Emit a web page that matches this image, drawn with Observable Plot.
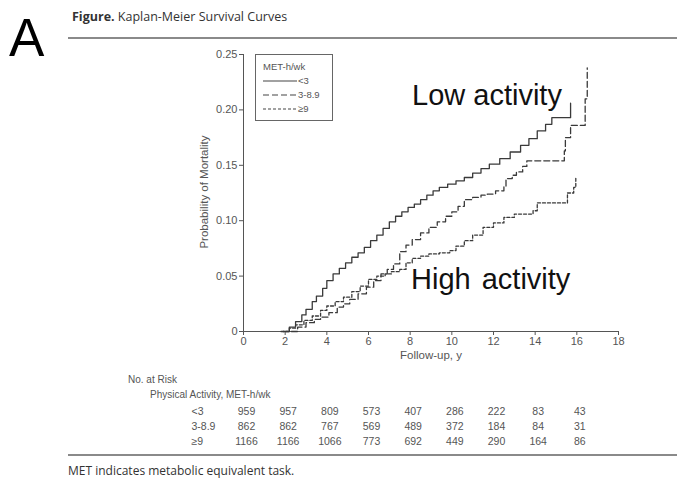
<!DOCTYPE html>
<html>
<head>
<meta charset="utf-8">
<script src="https://cdn.jsdelivr.net/npm/d3@7"></script>
<script src="https://cdn.jsdelivr.net/npm/@observablehq/plot@0.6"></script>
<style>
  html, body { margin: 0; padding: 0; background: #fff; }
  #wrap { position: relative; width: 677px; height: 479px; overflow: hidden; background: #fff; }
  .abs { position: absolute; white-space: pre; }
  .chartfont { font-family: "Liberation Sans", Arial, sans-serif; color: #555; }
  svg { overflow: visible; }
</style>
</head>
<body>
<div id="wrap">
  <div class="abs" style="left:9px; top:11px; font-family:'Liberation Sans',Arial,sans-serif; font-size:53px; line-height:53px; color:#000;">A</div>
  <div class="abs" style="left:72px; top:8px; font-family:'Open Sans',sans-serif; font-size:12.5px; color:#333;"><b style="font-weight:700">Figure.</b> Kaplan-Meier Survival Curves</div>
  <div class="abs" style="left:68px; top:37px; width:609px; height:2px; background:#8a8a8a;"></div>

  <div id="main" class="abs" style="left:0; top:0;"></div>
  <div id="risk" class="abs" style="left:0; top:403px;"></div>

  <!-- axis titles -->
  <div class="abs chartfont" style="left:431px; top:349px; font-size:11.5px; transform:translateX(-50%);">Follow-up, y</div>
  <div class="abs chartfont" style="left:204px; top:192px; font-size:11.5px; transform:translate(-50%,-50%) rotate(-90deg);">Probability of Mortality</div>

  <!-- legend -->
  <div class="abs chartfont" style="left:255px; top:54px; width:78px; height:67px; border:1px solid #666; box-sizing:border-box; background:#fff;">
    <div class="abs" style="left:7px; top:6px; font-size:9.5px; line-height:11px;">MET-h/wk</div>
    <svg class="abs" style="left:7px; top:20px;" width="36" height="40">
      <line x1="0" x2="34" y1="6" y2="6" stroke="#444" stroke-width="1.2"/>
      <line x1="0" x2="34" y1="20" y2="20" stroke="#444" stroke-width="1.2" stroke-dasharray="6,3"/>
      <line x1="0" x2="34" y1="34" y2="34" stroke="#444" stroke-width="1.2" stroke-dasharray="3,2"/>
    </svg>
    <div class="abs" style="left:42px; top:20px; font-size:9.5px; line-height:12px;">&lt;3</div>
    <div class="abs" style="left:42px; top:34px; font-size:9.5px; line-height:12px;">3-8.9</div>
    <div class="abs" style="left:42px; top:48px; font-size:9.5px; line-height:12px;">≥9</div>
  </div>

  <!-- annotations -->
  <div class="abs" style="left:412px; top:79px; font-family:'Liberation Sans',Arial,sans-serif; font-size:29px; line-height:32px; color:#111;">Low activity</div>
  <div class="abs" style="left:411px; top:263px; font-family:'Liberation Sans',Arial,sans-serif; font-size:29px; line-height:32px; color:#111; word-spacing:3px;">High activity</div>

  <!-- risk table headers -->
  <div class="abs chartfont" style="left:128px; top:374px; font-size:10px;">No. at Risk</div>
  <div class="abs chartfont" style="left:150px; top:389px; font-size:10px;">Physical Activity, MET-h/wk</div>

  <div class="abs" style="left:68px; top:454px; width:609px; height:2px; background:#8a8a8a;"></div>
  <div class="abs" style="left:68px; top:462px; font-family:'Open Sans',sans-serif; font-size:12px; color:#333;">MET indicates metabolic equivalent task.</div>
</div>
<script>
// ---- data ----
const groups = ["<3", "3-8.9", "≥9"];
const dashes = [null, "6,3", "3,2"];

const tLow  = [1.9, 2.2, 2.5, 2.8, 3.0, 3.3, 3.5, 3.8, 4.0, 4.3, 4.6, 4.9, 5.2, 5.5, 5.8, 6.1, 6.4, 6.7, 7.0, 7.3, 7.6, 7.9, 8.2, 8.5, 8.8, 9.1, 9.4, 9.8, 10.2, 10.6, 11.0, 11.4, 11.8, 12.3, 12.8, 13.3, 13.7, 14.1, 14.5, 14.8, 15.7];
const pLow  = [0, 0.004, 0.009, 0.015, 0.020, 0.027, 0.032, 0.039, 0.046, 0.052, 0.057, 0.062, 0.067, 0.071, 0.076, 0.082, 0.087, 0.093, 0.099, 0.104, 0.108, 0.112, 0.115, 0.119, 0.123, 0.127, 0.130, 0.133, 0.136, 0.139, 0.143, 0.147, 0.151, 0.156, 0.162, 0.168, 0.174, 0.181, 0.187, 0.193, 0.206];

const tMid  = [2.3, 2.6, 3.0, 3.4, 3.7, 4.1, 4.5, 4.8, 5.1, 5.5, 5.9, 6.25, 6.6, 6.9, 7.2, 7.5, 7.8, 8.1, 8.5, 8.9, 9.3, 9.7, 10.0, 10.3, 10.6, 11.0, 11.4, 11.7, 12.1, 12.5, 12.6, 12.9, 13.1, 13.4, 13.6, 15.4, 15.45, 15.7, 16.4, 16.5];
const pMid  = [0, 0.004, 0.008, 0.011, 0.013, 0.017, 0.022, 0.025, 0.029, 0.034, 0.040, 0.046, 0.052, 0.056, 0.061, 0.072, 0.078, 0.083, 0.089, 0.094, 0.099, 0.104, 0.108, 0.113, 0.119, 0.121, 0.123, 0.124, 0.127, 0.131, 0.138, 0.141, 0.144, 0.149, 0.154, 0.163, 0.175, 0.186, 0.210, 0.238];

const tHigh = [1.8, 2.2, 2.5, 2.9, 3.3, 3.7, 4.0, 4.4, 4.8, 5.2, 5.6, 6.0, 6.4, 6.8, 7.1, 7.5, 7.8, 8.1, 8.5, 8.9, 9.4, 9.9, 10.2, 10.6, 11.0, 11.5, 12.0, 12.5, 13.0, 13.9, 14.1, 15.55, 15.85, 15.95];
const pHigh = [0, 0.003, 0.006, 0.010, 0.014, 0.019, 0.023, 0.027, 0.031, 0.036, 0.041, 0.047, 0.050, 0.052, 0.054, 0.056, 0.062, 0.066, 0.068, 0.070, 0.071, 0.073, 0.077, 0.082, 0.087, 0.094, 0.098, 0.103, 0.106, 0.109, 0.116, 0.125, 0.130, 0.139];

const xTicks = [0, 2, 4, 6, 8, 10, 12, 14, 16, 18];
const yTicks = [0, 0.05, 0.10, 0.15, 0.20, 0.25];

const riskTimes = [0, 2, 4, 6, 8, 10, 12, 14, 16];
const riskLow  = [959, 957, 809, 573, 407, 286, 222, 83, 43];
const riskMid  = [862, 862, 767, 569, 489, 372, 184, 84, 31];
const riskHigh = [1166, 1166, 1066, 773, 692, 449, 290, 164, 86];

// ---- build tables ----
const series = [[tLow, pLow], [tMid, pMid], [tHigh, pHigh]].map(([ts, ps], i) =>
  ts.map((t, j) => ({group: groups[i], t, p: ps[j]})));

const riskRows = [riskLow, riskMid, riskHigh];
const riskData = [];
riskRows.forEach((row, i) => row.forEach((n, j) => riskData.push({group: groups[i], t: riskTimes[j], n})));

const W = 677;
const mL = 243, mR = 59;
const font = {fontFamily: "'Liberation Sans', Arial, sans-serif", fontSize: "11px", color: "#555", background: "transparent", overflow: "visible"};

const main = Plot.plot({
  width: W, height: 370,
  marginTop: 54, marginBottom: 39, marginLeft: mL, marginRight: mR,
  x: {domain: [0, 18]},
  y: {domain: [0, 0.25]},
  style: font,
  marks: [
    Plot.axisX({ticks: xTicks, tickSize: 4, tickPadding: 2, label: null, stroke: "#555"}),
    Plot.axisY({ticks: yTicks, tickSize: 4, tickPadding: 2, label: null, stroke: "#555",
      tickFormat: d => d === 0 ? "0" : d.toFixed(2)}),
    Plot.ruleX([0], {stroke: "#555"}),
    Plot.ruleY([0], {stroke: "#555"}),
    ...series.map((s, i) => Plot.line(s, {
      x: "t", y: "p", curve: "step-after",
      stroke: "#3a3a3a", strokeWidth: 1.3,
      strokeDasharray: dashes[i] ?? undefined
    }))
  ]
});
document.getElementById("main").appendChild(main);

const risk = Plot.plot({
  width: W, height: 45,
  marginTop: 0, marginBottom: 0, marginLeft: mL, marginRight: mR,
  x: {domain: [0, 18], axis: null},
  y: {type: "point", domain: groups, axis: null, padding: 0.5},
  style: font,
  marks: [
    Plot.text(groups, {y: d => d, text: d => d, frameAnchor: "left", textAnchor: "start", dx: -52, fill: "#555", fontSize: 10.5}),
    Plot.text(riskData, {x: "t", y: "group", text: d => String(d.n), fill: "#555", fontSize: 10.5, dx: 3})
  ]
});
document.getElementById("risk").appendChild(risk);
</script>
</body>
</html>
